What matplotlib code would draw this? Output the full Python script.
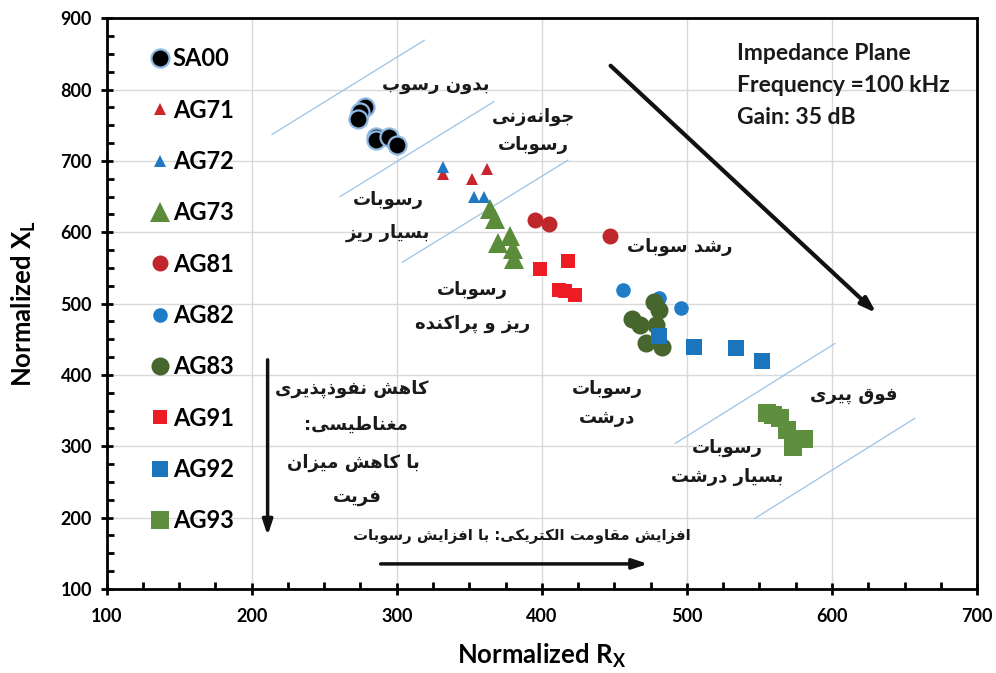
import matplotlib
matplotlib.use("Agg")
import matplotlib.pyplot as plt
from matplotlib.ticker import MultipleLocator

plt.rcParams["font.family"] = ["Lato", "DejaVu Sans"]
plt.rcParams["mathtext.fontset"] = "custom"
plt.rcParams["mathtext.rm"] = "Lato"
plt.rcParams["mathtext.bf"] = "Lato:bold"

# --- data (normalized Rx, Xl) ---
sa00_rx = [278, 275, 273, 286, 286, 295, 300]
sa00_xl = [776, 769, 759, 734, 729, 733, 722]
ag71_rx = [332, 352, 362]
ag71_xl = [681, 675, 688]
ag72_rx = [332, 353, 360]
ag72_xl = [691, 650, 650]
ag73_rx = [364, 368, 370, 378, 380, 381]
ag73_xl = [632, 619, 585, 594, 576, 562]
ag81_rx = [395, 405, 447]
ag81_xl = [617, 612, 595]
ag82_rx = [456, 481, 496]
ag82_xl = [519, 508, 494]
ag83_rx = [477, 481, 462, 468, 479, 472, 483]
ag83_xl = [502, 491, 479, 470, 470, 444, 439]
ag91_rx = [399, 418, 412, 416, 423]
ag91_xl = [549, 559, 519, 517, 512]
ag92_rx = [481, 505, 534, 552]
ag92_xl = [454, 439, 438, 420]
ag93_rx = [555, 559, 564, 569, 573, 581]
ag93_xl = [347, 344, 339, 323, 299, 310]

# boundary lines between sediment zones (start, end)
zone_lines = [((214, 737), (319, 869)),
              ((261, 650), (367, 783)),
              ((304, 558), (418, 701)),
              ((492, 304), (602, 444)),
              ((547, 199), (657, 339))]

# --- Persian shaping (matplotlib has no complex text layout) ---
FORMS = {
    "ا": ("\uFE8D", "\uFE8E", None, None),
    "آ": ("\uFE81", "\uFE82", None, None),
    "ب": ("\uFE8F", "\uFE90", "\uFE91", "\uFE92"),
    "پ": ("\uFB56", "\uFB57", "\uFB58", "\uFB59"),
    "ت": ("\uFE95", "\uFE96", "\uFE97", "\uFE98"),
    "ج": ("\uFE9D", "\uFE9E", "\uFE9F", "\uFEA0"),
    "د": ("\uFEA9", "\uFEAA", None, None),
    "ذ": ("\uFEAB", "\uFEAC", None, None),
    "ر": ("\uFEAD", "\uFEAE", None, None),
    "ز": ("\uFEAF", "\uFEB0", None, None),
    "س": ("\uFEB1", "\uFEB2", "\uFEB3", "\uFEB4"),
    "ش": ("\uFEB5", "\uFEB6", "\uFEB7", "\uFEB8"),
    "ط": ("\uFEC1", "\uFEC2", "\uFEC3", "\uFEC4"),
    "غ": ("\uFECD", "\uFECE", "\uFECF", "\uFED0"),
    "ف": ("\uFED1", "\uFED2", "\uFED3", "\uFED4"),
    "ق": ("\uFED5", "\uFED6", "\uFED7", "\uFED8"),
    "ک": ("\uFB8E", "\uFB8F", "\uFB90", "\uFB91"),
    "ل": ("\uFEDD", "\uFEDE", "\uFEDF", "\uFEE0"),
    "م": ("\uFEE1", "\uFEE2", "\uFEE3", "\uFEE4"),
    "ن": ("\uFEE5", "\uFEE6", "\uFEE7", "\uFEE8"),
    "ه": ("\uFEE9", "\uFEEA", "\uFEEB", "\uFEEC"),
    "و": ("\uFEED", "\uFEEE", None, None),
    "ی": ("\uFBFC", "\uFBFD", "\uFBFE", "\uFBFF"),
}


def fa(s):
    out = []
    for i, ch in enumerate(s):
        if ch not in FORMS:
            if ch != "\u200c":
                out.append(ch)
            continue
        prev = s[i - 1] if i > 0 else ""
        nxt = s[i + 1] if i + 1 < len(s) else ""
        j_prev = prev in FORMS and FORMS[prev][2] is not None
        j_next = FORMS[ch][2] is not None and nxt in FORMS
        iso, fin, ini, med = FORMS[ch]
        if j_prev and j_next:
            out.append(med)
        elif j_prev:
            out.append(fin)
        elif j_next:
            out.append(ini)
        else:
            out.append(iso)
    return "".join(out)[::-1]


fig = plt.figure(figsize=(9.96, 6.73), dpi=100)
ax = fig.add_axes([0.107, 0.125, 0.874, 0.848])

for (x0, y0), (x1, y1) in zone_lines:
    ax.plot([x0, x1], [y0, y1], color="#9DC3E6", lw=0.9, zorder=1)

ax.plot(sa00_rx, sa00_xl, "o", ms=13, mfc="black", mec="#8DB9E3", mew=1.6, label="SA00", zorder=3)
ax.plot(ag71_rx, ag71_xl, "^", ms=9, color="#C9252C", mew=0, label="AG71", zorder=3)
ax.plot(ag72_rx, ag72_xl, "^", ms=9, color="#1F78C1", mew=0, label="AG72", zorder=3)
ax.plot(ag73_rx, ag73_xl, "^", ms=14, color="#5B8C3A", mew=0, label="AG73", zorder=3)
ax.plot(ag81_rx, ag81_xl, "o", ms=11.5, color="#C0272D", mew=0, label="AG81", zorder=3)
ax.plot(ag82_rx, ag82_xl, "o", ms=10.5, color="#1E7CC8", mew=0, label="AG82", zorder=3)
ax.plot(ag83_rx, ag83_xl, "o", ms=13, color="#46662D", mew=0, label="AG83", zorder=3)
ax.plot(ag91_rx, ag91_xl, "s", ms=10, color="#EE1C25", mew=0, label="AG91", zorder=3)
ax.plot(ag92_rx, ag92_xl, "s", ms=11, color="#1B75BC", mew=0, label="AG92", zorder=4)
ax.plot(ag93_rx, ag93_xl, "s", ms=13.5, color="#5E8F3E", mew=0, label="AG93", zorder=3)

ax.set_xlim(100, 700)
ax.set_ylim(100, 900)
ax.xaxis.set_major_locator(MultipleLocator(100))
ax.yaxis.set_major_locator(MultipleLocator(100))
ax.xaxis.set_minor_locator(MultipleLocator(25))
ax.yaxis.set_minor_locator(MultipleLocator(25))
ax.grid(True, which="major", color="#D9D9D9", lw=1, zorder=0)
ax.set_axisbelow(True)
for sp in ax.spines.values():
    sp.set_linewidth(2)
ax.tick_params(which="major", direction="inout", length=9, width=2, labelsize=13, pad=6)
ax.tick_params(axis="x", which="major", pad=9)
ax.tick_params(which="minor", direction="in", length=5, width=2)
for lab in ax.get_xticklabels() + ax.get_yticklabels():
    lab.set_fontweight("bold")

ax.set_xlabel(r"Normalized R$_\mathbf{X}$", fontsize=18.5, fontweight="bold", labelpad=12)
ax.set_ylabel(r"Normalized X$_\mathbf{L}$", fontsize=18.5, fontweight="bold", labelpad=16)

leg = ax.legend(loc="upper left", bbox_to_anchor=(0.026, 0.986), frameon=False,
                prop={"weight": "bold", "size": 17}, labelspacing=1.2,
                handlelength=0.8, handletextpad=0.15, numpoints=1)

ax.text(0.724, 0.957, "Impedance Plane\nFrequency =100 kHz\nGain: 35 dB",
        transform=ax.transAxes, ha="left", va="top", fontsize=16.5,
        fontweight="bold", linespacing=1.65, color="#1a1a1a")

# arrows
arrow_kw = dict(arrowstyle="-|>,head_length=0.9,head_width=0.3", color="#111111", lw=3)
ax.annotate("", xy=(632, 484), xytext=(446, 836), arrowprops=arrow_kw)
ax.annotate("", xy=(211, 171), xytext=(211, 425), arrowprops=dict(arrow_kw, lw=2.5))
ax.annotate("", xy=(475, 135), xytext=(287, 135), arrowprops=dict(arrow_kw, lw=2.5))

# Persian annotations
fa_font = dict(family="DejaVu Sans", color="#1a1a1a", ha="center", va="center", fontweight="bold")
notes = [
    (327, 806, "بدون رسوب"),
    (394, 761, "جوانه\u200cزنی"),
    (394, 722, "رسوبات"),
    (294, 645, "رسوبات"),
    (294, 599, "بسیار ریز"),
    (495, 579, "رشد سوبات"),
    (352, 519, "رسوبات"),
    (352, 472, "ریز و پراکنده"),
    (269, 381, "کاهش نفوذپذیری"),
    (272, 330, "مغناطیسی:"),
    (270, 276, "با کاهش میزان"),
    (273, 229, "فریت"),
    (445, 381, "رسوبات"),
    (445, 339, "درشت"),
    (615, 372, "فوق پیری"),
    (528, 297, "رسوبات"),
    (528, 257, "بسیار درشت"),
]
for x, y, s in notes:
    ax.text(x, y, fa(s), fontsize=13, **fa_font)
ax.text(386, 173, fa("افزایش مقاومت الکتریکی: با افزایش رسوبات"), fontsize=10.7, **fa_font)

fig.savefig("out.png", dpi=100)
